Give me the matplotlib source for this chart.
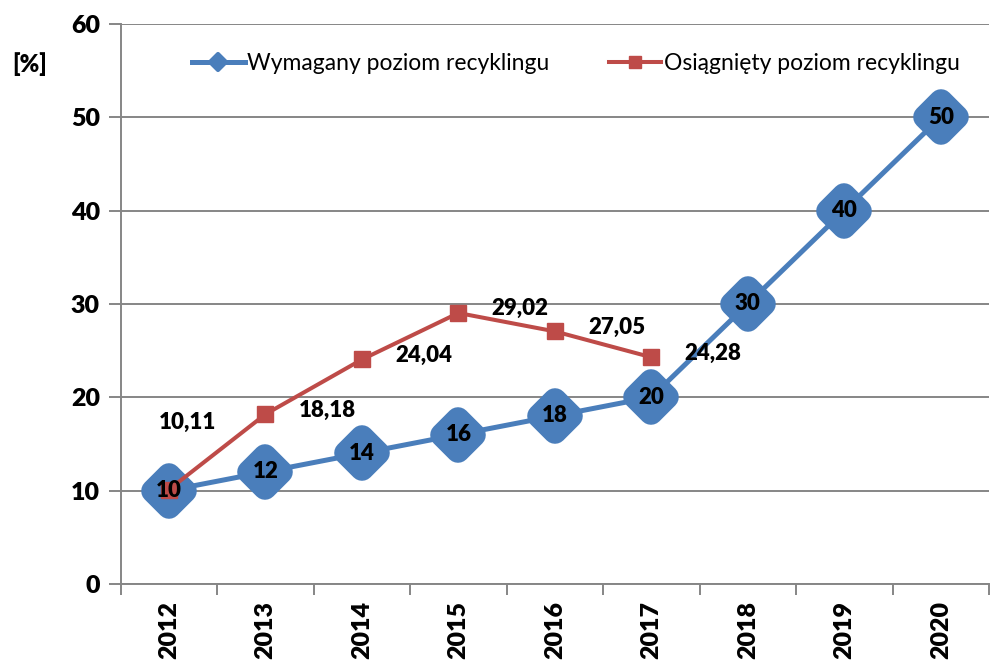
import matplotlib
matplotlib.use('Agg')
import matplotlib.pyplot as plt
from matplotlib.lines import Line2D
from matplotlib.markers import MarkerStyle
from matplotlib.ticker import FixedLocator, NullFormatter

plt.rcParams['font.family'] = ['Lato', 'DejaVu Sans']

# dane
years = ['2012', '2013', '2014', '2015', '2016', '2017', '2018', '2019', '2020']
wymagany = [10, 12, 14, 16, 18, 20, 30, 40, 50]
osiagniety = [10.11, 18.18, 24.04, 29.02, 27.05, 24.28]
labels = ['Wymagany poziom recyklingu', 'Osiągnięty poziom recyklingu']

blue = '#4a7ebb'
red = '#be4b48'
grid_c = '#868686'
bw = 'heavy'
diamond = MarkerStyle('D', joinstyle='round')

fig = plt.figure(figsize=(9.9, 6.62), dpi=100)
ax = fig.add_axes([0.122, 0.118, 0.877, 0.846])

x_w = list(range(len(wymagany)))
x_o = list(range(len(osiagniety)))

ax.plot(x_w, wymagany, color=blue, lw=3.6, zorder=3,
        marker=diamond, ms=16, mew=17, mec=blue, mfc=blue)
ax.plot(x_o, osiagniety, color=red, lw=2.9, zorder=4,
        marker='s', ms=12, mec=red, mfc=red)

# etykiety wartości
for xi, v in zip(x_w, wymagany):
    ax.text(xi, v, str(v), ha='center', va='center', fontsize=16,
            fontweight=bw, color='black', zorder=6)
for xi, v in zip(x_o, osiagniety):
    lab = f'{v:.2f}'.replace('.', ',')
    off = (-7, 48) if xi == 0 else (24, 3)
    ax.annotate(lab, (xi, v), xytext=off, textcoords='offset points',
                ha='left', va='center', fontsize=16, fontweight=bw, zorder=6)

ax.set_xlim(-0.5, len(years) - 0.5)
ax.set_ylim(0, 60)
ax.set_yticks(range(0, 61, 10))
ax.yaxis.grid(True, color=grid_c, lw=1.4)
ax.set_axisbelow(True)

ax.xaxis.set_major_locator(FixedLocator([i - 0.5 for i in range(len(years) + 1)]))
ax.xaxis.set_major_formatter(NullFormatter())
ax.xaxis.set_minor_locator(FixedLocator(x_w))
ax.set_xticklabels(years, minor=True, rotation=90, fontsize=18, fontweight=bw)
ax.tick_params(axis='x', which='minor', length=0, pad=12)
ax.tick_params(axis='x', which='major', length=8, width=1.4, color=grid_c)
ax.tick_params(axis='y', length=9, width=1.4, color=grid_c, labelsize=18, pad=6)
for t in ax.get_yticklabels():
    t.set_fontweight(bw)

for s in ['top', 'right']:
    ax.spines[s].set_visible(False)
for s in ['left', 'bottom']:
    ax.spines[s].set_color(grid_c)
    ax.spines[s].set_linewidth(1.4)

handles = [
    Line2D([], [], color=blue, lw=3.6, marker=diamond, ms=8, mew=3, mec=blue, mfc=blue),
    Line2D([], [], color=red, lw=2.9, marker='s', ms=8, mec=red, mfc=red),
]
ax.legend(handles, labels, loc='upper center', bbox_to_anchor=(0.524, 0.985), ncol=2,
          frameon=False, fontsize=16.5, handlelength=2.3, columnspacing=2.6,
          handletextpad=0.1)

fig.text(0.012, 0.903, '[%]', fontsize=17, fontweight=bw, va='center')

plt.savefig('out.png', dpi=100)
